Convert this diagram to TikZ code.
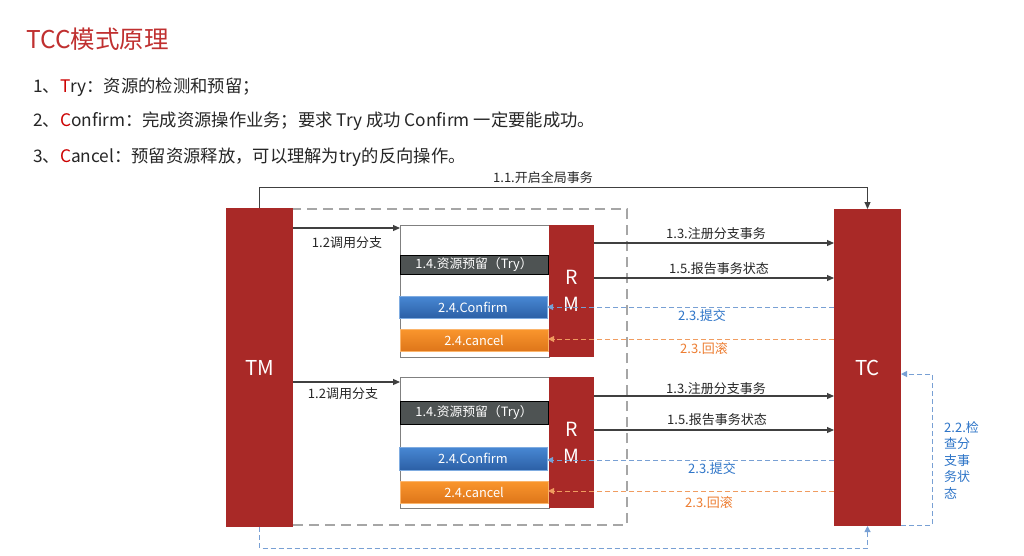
\documentclass[tikz,border=0pt]{standalone}
\usepackage{fontspec}
\setmainfont{Noto Sans CJK SC}
\usetikzlibrary{arrows.meta,shadows}
\definecolor{boxred}{RGB}{169,41,39}
\definecolor{titlered}{RGB}{192,48,48}
\definecolor{keyred}{RGB}{204,0,0}
\definecolor{txt}{RGB}{38,38,38}
\definecolor{dgray}{RGB}{166,166,166}
\definecolor{lgray}{RGB}{128,128,128}
\definecolor{arrgray}{RGB}{64,64,64}
\definecolor{lblue}{RGB}{120,160,212}
\definecolor{tblue}{RGB}{46,117,200}
\definecolor{lorange}{RGB}{240,156,96}
\definecolor{torange}{RGB}{237,125,49}
\definecolor{trygray}{RGB}{78,83,83}
\definecolor{conftop}{RGB}{72,136,212}
\definecolor{confbot}{RGB}{44,96,166}
\definecolor{canctop}{RGB}{250,150,45}
\definecolor{cancbot}{RGB}{222,118,26}
\tikzset{
  redbox/.style={fill=boxred, draw=none, inner sep=0pt, outer sep=0pt, text=white, anchor=north west},
  rmbox/.style={redbox, minimum width=45pt, minimum height=132pt, align=center,
    font=\fontsize{19.5}{27}\selectfont},
  groupbox/.style={draw=lgray, line width=0.8pt, fill=white, inner sep=0pt, outer sep=0pt,
    anchor=north west, minimum width=149pt, minimum height=132pt},
  bar/.style={inner sep=0pt, outer sep=0pt, anchor=north west, minimum width=148pt,
    text=white, font=\fontsize{12.8}{14}\selectfont},
  trybar/.style={bar, fill=trygray, draw=black, line width=0.6pt},
  confbar/.style={bar, minimum height=22pt, top color=conftop, bottom color=confbot,
    draw=conftop!70!white, line width=0.5pt,
    drop shadow={opacity=0.25, shadow xshift=0.8pt, shadow yshift=-1.2pt}},
  cancbar/.style={bar, minimum height=22pt, top color=canctop, bottom color=cancbot,
    draw=canctop!70!white, line width=0.5pt,
    drop shadow={opacity=0.25, shadow xshift=0.8pt, shadow yshift=-1.2pt}},
  arr/.style={draw=arrgray, line width=1.1pt, -{Triangle[length=7pt,width=6pt]}},
  bluearr/.style={draw=lblue, line width=1pt, dash pattern=on 5pt off 3pt,
    -{Triangle[length=6pt,width=6pt,fill=lblue]}},
  orangearr/.style={draw=lorange, line width=1pt, dash pattern=on 5pt off 3pt,
    -{Triangle[length=6pt,width=6pt,fill=lorange]}},
  lbl/.style={text=txt, font=\fontsize{13}{15}\selectfont, inner sep=0pt},
  bluelbl/.style={lbl, text=tblue},
  orangelbl/.style={lbl, text=torange},
  listline/.style={anchor=west, inner sep=0pt, text=txt, font=\fontsize{17.3}{20}\selectfont},
}
\begin{document}
\begin{tikzpicture}[x=1pt,y=-1pt]
\useasboundingbox[fill=white] (0,0) rectangle (1024,555);

% title and list
\node[anchor=west, inner sep=0pt, text=titlered, font=\fontsize{24.5}{28}\selectfont] (title) at (26,39) {TCC模式原理};
\node[listline] (l1) at (33,87) {1、{\color{keyred}T}ry：资源的检测和预留；};
\node[listline] (l2) at (33,121) {2、{\color{keyred}C}onfirm：完成资源操作业务；要求 Try 成功 Confirm 一定要能成功。};
\node[listline] (l3) at (33,157) {3、{\color{keyred}C}ancel：预留资源释放，可以理解为try的反向操作。};

% dashed scope rectangle
\node[draw=dgray, line width=2.4pt, dash pattern=on 10pt off 6pt, inner sep=0pt, outer sep=0pt,
  anchor=north west, minimum width=382pt, minimum height=316pt] (scope) at (245,209) {};

% TM and TC
\node[redbox, minimum width=67pt, minimum height=319pt, font=\fontsize{20.5}{24}\selectfont] (TM) at (226,208) {TM};
\node[redbox, minimum width=67pt, minimum height=317pt, font=\fontsize{20.5}{24}\selectfont] (TC) at (834,209) {TC};

% upper group
\node[groupbox] (box1) at (400,225) {};
\node[rmbox] (RM1) at (549,225) {\raisebox{-3pt}{R}\\\raisebox{-3pt}{M}};
\node[trybar, minimum height=19pt] (try1) at (400,255) {1.4.资源预留（Try）};
\node[confbar] (conf1) at (399,296) {2.4.Confirm};
\node[cancbar] (canc1) at (400,329) {2.4.cancel};

% lower group
\node[groupbox, minimum height=131pt] (box2) at (400,377) {};
\node[rmbox, minimum height=131pt] (RM2) at (549,377) {\raisebox{-3pt}{R}\\\raisebox{-3pt}{M}};
\node[trybar, minimum height=23pt] (try2) at (400,401) {1.4.资源预留（Try）};
\node[confbar, minimum height=23pt] (conf2) at (399,447) {2.4.Confirm};
\node[cancbar] (canc2) at (400,481) {2.4.cancel};

% 1.1
\draw[draw=arrgray, line width=1pt, -{Triangle[length=7pt,width=6pt]}]
  (TM.north) -- (TM.north |- 0,187) -| (TC.north);
\node[lbl] (t11) at (543,178) {1.1.开启全局事务};

% 1.2
\coordinate (in1) at ([yshift=-3pt]box1.north west);
\coordinate (in2) at ([yshift=-5pt]box2.north west);
\draw[arr] (TM.east |- in1) -- (in1);
\draw[arr] (TM.east |- in2) -- (in2);
\node[lbl] (t12a) at (347,243) {1.2调用分支};
\node[lbl] (t12b) at (343,394) {1.2调用分支};

% 1.3 / 1.5
\draw[arr] (RM1.east |- 0,243) -- (TC.west |- 0,243);
\draw[arr] (RM1.east |- 0,278) -- (TC.west |- 0,278);
\draw[arr] (RM2.east |- 0,396) -- (TC.west |- 0,396);
\draw[arr] (RM2.east |- 0,430) -- (TC.west |- 0,430);
\node[lbl] (t13a) at (716,234) {1.3.注册分支事务};
\node[lbl] (t15a) at (719,269) {1.5.报告事务状态};
\node[lbl] (t13b) at (716,389) {1.3.注册分支事务};
\node[lbl] (t15b) at (717,420) {1.5.报告事务状态};

% 2.3
\draw[bluearr] (TC.west |- 0,307) -- (conf1.east |- 0,307);
\draw[orangearr] (TC.west |- 0,339) -- (canc1.east |- 0,339);
\draw[bluearr] (TC.west |- 0,460) -- (conf2.east |- 0,460);
\draw[orangearr] (TC.west |- 0,491) -- (canc2.east |- 0,491);
\node[bluelbl] (t23a) at (702,316) {2.3.提交};
\node[orangelbl] (t23b) at (704,349) {2.3.回滚};
\node[bluelbl] (t23c) at (712,469) {2.3.提交};
\node[orangelbl] (t23d) at (709,503) {2.3.回滚};

% bottom loop TM -> TC
\draw[bluearr] (TM.south) -- (TM.south |- 0,548) -| (TC.south);

% 2.2 loop
\draw[bluearr] ([yshift=1pt]TC.south east) -- ++(31,0) |- (TC.east |- 0,374);
\node[bluelbl, anchor=north west, align=left, font=\fontsize{13}{16.5}\selectfont] (t22) at (944,421)
  {2.2.检\\查分\\支事\\务状\\态};
\end{tikzpicture}
\end{document}
